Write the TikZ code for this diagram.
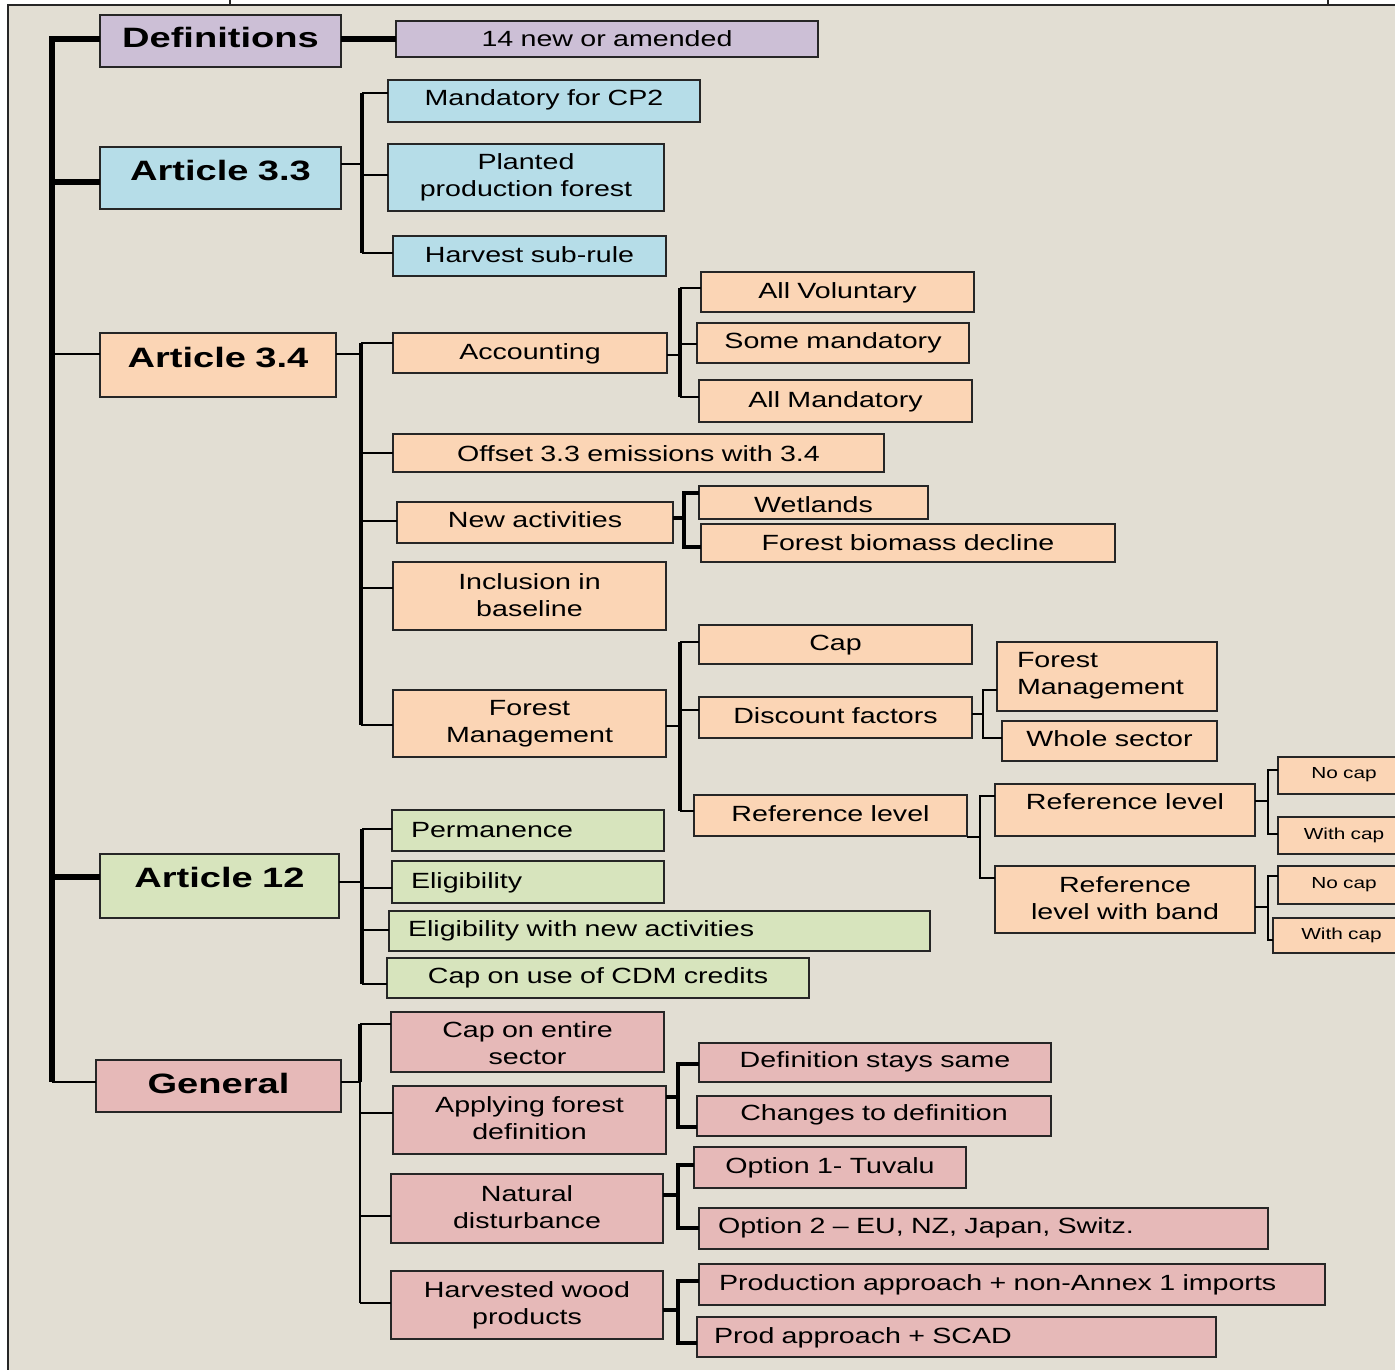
\documentclass[tikz,border=0pt]{standalone}
\usepackage{fontspec}
\setmainfont{Liberation Sans}[FakeStretch=1.3,BoldFeatures={FakeStretch=1.36}]
\definecolor{bgc}{HTML}{E2DED3}
\definecolor{bordc}{HTML}{262626}
\definecolor{cpurple}{HTML}{CCBFD6}
\definecolor{cblue}{HTML}{B6DDE8}
\definecolor{corange}{HTML}{FBD5B5}
\definecolor{cgreen}{HTML}{D7E4BD}
\definecolor{cpink}{HTML}{E6B9B8}
\tikzset{
  cell/.style={draw=bordc, line width=1pt, inner xsep=0pt, inner ysep=0pt, outer sep=0pt,
    align=center, font=\fontsize{11}{13.5}\selectfont},
  hd/.style={font=\fontsize{14}{17}\selectfont\bfseries},
  sm/.style={font=\fontsize{8}{10}\selectfont},
  lft/.style={align=left},
  pu/.style={fill=cpurple}, bl/.style={fill=cblue}, orng/.style={fill=corange},
  gr/.style={fill=cgreen}, pk/.style={fill=cpink},
  trunkl/.style={line width=3pt, draw=black},
  thk/.style={line width=2.2pt, draw=black},
  thn/.style={line width=0.75pt, draw=black},
}
% #1 name, #2 style, #3 x1, #4 y1, #5 x2, #6 y2, #7 baseline of first line, #8 text
\newcommand\mkbox[8]{%
  \pgfmathsetmacro\bxw{(#5-#3)*0.5}%
  \pgfmathsetmacro\bxh{(#7-#4)*0.5}%
  \pgfmathsetmacro\bxd{(#6-#7)*0.5}%
  \node[cell,#2,text width=\bxw pt,text height=\bxh pt,text depth=\bxd pt,anchor=north west] (#1) at (#3,#4) {#8};%
}
\begin{document}
\begin{tikzpicture}[x=0.5pt,y=-0.5pt]
\useasboundingbox (0,0) rectangle (1395,1370);
\fill[white] (0,0) rectangle (1395,1370);
\fill[bgc] (8,5) rectangle (1395,1370);
\draw[bordc,line width=1pt] (1395,5) -- (8,5) -- (8,1370);
\draw[bordc,line width=0.8pt] (230,0) -- (230,5);
\draw[bordc,line width=0.8pt] (1328,0) -- (1328,5);

% ---------- boxes ----------
\mkbox{def}{pu,hd}{100}{15}{341}{67}{48}{Definitions}
\mkbox{new14}{pu}{396}{21}{818}{57}{47}{14 new or amended}

\mkbox{a33}{bl,hd}{100}{147}{341}{209}{180}{Article 3.3}
\mkbox{mand}{bl}{388}{80}{700}{122}{105}{Mandatory for CP2}
\mkbox{plant}{bl}{388}{144}{664}{211}{169}{Planted\\production forest}
\mkbox{hsr}{bl}{393}{236}{666}{276}{262}{Harvest sub-rule}

\mkbox{a34}{orng,hd}{100}{333}{336}{397}{367}{Article 3.4}
\mkbox{acc}{orng}{393}{333}{667}{373}{359}{Accounting}
\mkbox{allv}{orng}{701}{272}{974}{312}{298}{All Voluntary}
\mkbox{somem}{orng}{697}{323}{969}{363}{348}{Some mandatory}
\mkbox{allm}{orng}{699}{380}{972}{422}{407}{All Mandatory}
\mkbox{offs}{orng}{393}{434}{884}{472}{461}{Offset 3.3 emissions with 3.4}
\mkbox{newa}{orng}{397}{502}{673}{543}{527}{New activities}
\mkbox{wet}{orng}{699}{486}{928}{519}{512}{Wetlands}
\mkbox{fbd}{orng}{701}{524}{1115}{562}{550}{Forest biomass decline}
\mkbox{incl}{orng}{393}{562}{666}{630}{589}{Inclusion in\\baseline}
\mkbox{fm}{orng}{393}{690}{666}{757}{715}{Forest\\Management}
\mkbox{cap}{orng}{699}{625}{972}{664}{650}{Cap}
\mkbox{disc}{orng}{699}{697}{972}{738}{723}{Discount factors}
\mkbox{fm2}{orng,lft}{997}{642}{1217}{711}{667}{\hspace*{10pt}Forest\\\hspace*{10pt}Management}
\mkbox{whole}{orng}{1002}{721}{1217}{761}{746}{Whole sector}
\mkbox{rlm}{orng}{694}{795}{967}{836}{821}{Reference level}
\mkbox{rlr}{orng}{995}{784}{1255}{836}{809}{Reference level}
\mkbox{rlb}{orng}{995}{866}{1255}{933}{892}{Reference\\level with band}
\mkbox{nca}{orng,sm}{1278}{757}{1410}{794}{778}{No cap}
\mkbox{wca}{orng,sm}{1278}{817}{1410}{854}{839}{With cap}
\mkbox{ncb}{orng,sm}{1278}{866}{1410}{904}{888}{No cap}
\mkbox{wcb}{orng,sm}{1273}{918}{1410}{953}{939}{With cap}

\mkbox{a12}{gr,hd}{100}{854}{339}{918}{887}{Article 12}
\mkbox{perm}{gr,lft}{392}{810}{664}{851}{837}{\hspace*{9.5pt}Permanence}
\mkbox{elig}{gr,lft}{392}{861}{664}{903}{888}{\hspace*{9.5pt}Eligibility}
\mkbox{eligna}{gr,lft}{389}{911}{930}{951}{936}{\hspace*{9.5pt}Eligibility with new activities}
\mkbox{cdm}{gr}{387}{958}{809}{998}{983}{Cap on use of CDM credits}

\mkbox{gen}{pk,hd}{96}{1060}{341}{1112}{1093}{General}
\mkbox{capent}{pk}{391}{1012}{664}{1072}{1037}{Cap on entire\\sector}
\mkbox{apply}{pk}{393}{1086}{666}{1154}{1112}{Applying forest\\definition}
\mkbox{natd}{pk}{391}{1174}{663}{1243}{1201}{Natural\\disturbance}
\mkbox{hwp}{pk}{391}{1271}{663}{1339}{1297}{Harvested wood\\products}
\mkbox{dss}{pk}{699}{1043}{1051}{1082}{1067}{Definition stays same}
\mkbox{chg}{pk}{697}{1096}{1051}{1136}{1120}{Changes to definition}
\mkbox{opta}{pk}{694}{1147}{966}{1188}{1173}{Option 1- Tuvalu}
\mkbox{optb}{pk,lft}{699}{1208}{1268}{1249}{1233}{\hspace*{9.5pt}Option 2 – EU, NZ, Japan, Switz.}
\mkbox{proda}{pk,lft}{699}{1264}{1325}{1305}{1290}{\hspace*{10pt}Production approach + non-Annex 1 imports}
\mkbox{prods}{pk,lft}{697}{1317}{1216}{1357}{1343}{\hspace*{8.5pt}Prod approach + SCAD}

% ---------- bus coordinates ----------
\coordinate (tr) at (52,0);
\coordinate (b33) at (362,0);
\coordinate (b34) at (361,0);
\coordinate (bacc) at (680,0);
\coordinate (bnew) at (684,0);
\coordinate (bfm) at (680,0);
\coordinate (bdisc) at (983,0);
\coordinate (brlm) at (980,0);
\coordinate (brl) at (1268,0);
\coordinate (b12) at (362,0);
\coordinate (bgen) at (360,0);
\coordinate (bapp) at (678,0);

% ---------- trunk ----------
\draw[trunkl] (def.west |- 0,39) -- (tr |- 0,39) -- (tr |- 0,1082);
\draw[thk,line width=2.6pt] (tr |- 0,182) -- (a33.west |- 0,182);
\draw[thn] (tr |- 0,354) -- (a34.west |- 0,354);
\draw[thk,line width=2.6pt] (tr |- 0,877) -- (a12.west |- 0,877);
\draw[thn] (tr |- 0,1082) -- (gen.west |- 0,1082);

\draw[thk,line width=2.6pt] (def.east |- 0,39) -- (new14.west |- 0,39);

% Article 3.3
\draw[thn] (a33.east |- 0,164) -- (b33 |- 0,164);
\draw[thk] (b33 |- 0,93) -- (b33 |- 0,253);
\draw[thn] (b33 |- 0,93) -- (mand.west |- 0,93);
\draw[thn] (b33 |- 0,175) -- (plant.west |- 0,175);
\draw[thn] (b33 |- 0,253) -- (hsr.west |- 0,253);

% Article 3.4
\draw[thn] (a34.east |- 0,354) -- (b34 |- 0,354);
\draw[thk] (b34 |- 0,343) -- (b34 |- 0,725);
\draw[thn] (b34 |- 0,343) -- (acc.west |- 0,343);
\draw[thn] (b34 |- 0,453) -- (offs.west |- 0,453);
\draw[thn] (b34 |- 0,521) -- (newa.west |- 0,521);
\draw[thn] (b34 |- 0,588) -- (incl.west |- 0,588);
\draw[thn] (b34 |- 0,725) -- (fm.west |- 0,725);

% Accounting
\draw[thn] (acc.east |- 0,355) -- (bacc |- 0,355);
\draw[thk] (bacc |- 0,288) -- (bacc |- 0,397);
\draw[thn] (bacc |- 0,288) -- (allv.west |- 0,288);
\draw[thn] (bacc |- 0,344) -- (somem.west |- 0,344);
\draw[thn] (bacc |- 0,397) -- (allm.west |- 0,397);

% New activities
\draw[thk] (newa.east |- 0,518) -- (bnew |- 0,518);
\draw[thk] (wet.west |- 0,493) -- (bnew |- 0,493) -- (bnew |- 0,547) -- (fbd.west |- 0,547);

% Forest management
\draw[thn] (fm.east |- 0,726) -- (bfm |- 0,726);
\draw[thk] (bfm |- 0,642) -- (bfm |- 0,811);
\draw[thn] (bfm |- 0,642) -- (cap.west |- 0,642);
\draw[thn] (bfm |- 0,710) -- (disc.west |- 0,710);
\draw[thn] (bfm |- 0,811) -- (rlm.west |- 0,811);

% Discount factors
\draw[thn] (disc.east |- 0,714) -- (bdisc |- 0,714);
\draw[thn] (fm2.west |- 0,690) -- (bdisc |- 0,690) -- (bdisc |- 0,738) -- (whole.west |- 0,738);

% Reference level (middle)
\draw[thn] (rlm.east |- 0,837) -- (brlm |- 0,837);
\draw[thn] (rlr.west |- 0,796) -- (brlm |- 0,796) -- (brlm |- 0,878) -- (rlb.west |- 0,878);

% Reference level (right)
\draw[thn] (rlr.east |- 0,801) -- (brl |- 0,801);
\draw[thn] (nca.west |- 0,770) -- (brl |- 0,770) -- (brl |- 0,834) -- (wca.west |- 0,834);
\draw[thn] (rlb.east |- 0,907) -- (brl |- 0,907);
\draw[thn] (ncb.west |- 0,876) -- (brl |- 0,876) -- (brl |- 0,940) -- (wcb.west |- 0,940);

% Article 12
\draw[thn] (a12.east |- 0,882) -- (b12 |- 0,882);
\draw[thk] (b12 |- 0,829) -- (b12 |- 0,984);
\draw[thn] (b12 |- 0,829) -- (perm.west |- 0,829);
\draw[thn] (b12 |- 0,888) -- (elig.west |- 0,888);
\draw[thn] (b12 |- 0,930) -- (eligna.west |- 0,930);
\draw[thn] (b12 |- 0,984) -- (cdm.west |- 0,984);

% General
\draw[thn] (gen.east |- 0,1082) -- (bgen |- 0,1082);
\draw[thk] (bgen |- 0,1024) -- (bgen |- 0,1082);
\draw[thn] (bgen |- 0,1082) -- (bgen |- 0,1303);
\draw[thn] (bgen |- 0,1024) -- (capent.west |- 0,1024);
\draw[thn] (bgen |- 0,1113) -- (apply.west |- 0,1113);
\draw[thn] (bgen |- 0,1216) -- (natd.west |- 0,1216);
\draw[thn] (bgen |- 0,1303) -- (hwp.west |- 0,1303);

% Applying / Natural / Harvested
\draw[thk] (apply.east |- 0,1097) -- (bapp |- 0,1097);
\draw[thk] (dss.west |- 0,1064) -- (bapp |- 0,1064) -- (bapp |- 0,1127) -- (chg.west |- 0,1127);
\draw[thk] (natd.east |- 0,1195) -- (bapp |- 0,1195);
\draw[thk] (opta.west |- 0,1165) -- (bapp |- 0,1165) -- (bapp |- 0,1228) -- (optb.west |- 0,1228);
\draw[thk] (hwp.east |- 0,1310) -- (bapp |- 0,1310);
\draw[thk] (proda.west |- 0,1281) -- (bapp |- 0,1281) -- (bapp |- 0,1343) -- (prods.west |- 0,1343);
\end{tikzpicture}
\end{document}
